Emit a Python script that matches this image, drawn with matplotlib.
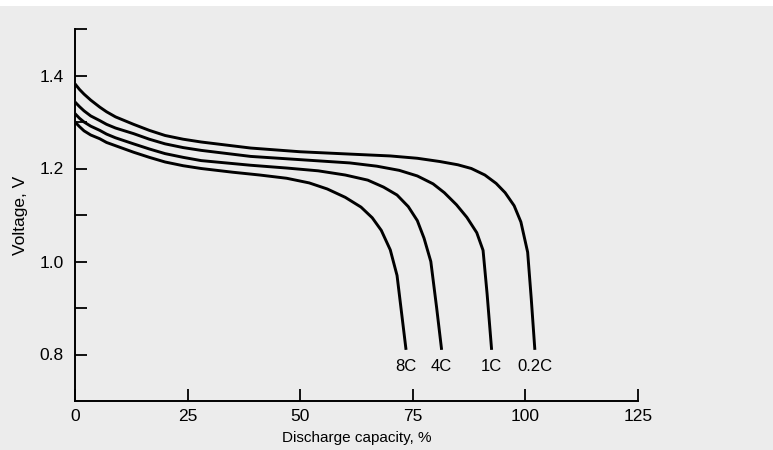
import matplotlib.pyplot as plt

# ─── Data ────────────────────────────────────────────────────────────────────

rates = ['0.2C', '1C', '4C', '8C']

cap_02c = [0, 1, 2, 3.5, 5.5, 7, 9, 13, 16.5, 20, 24, 28, 39, 50, 61, 70, 76,
           81, 85, 88, 91, 93.5, 95.5, 97.5, 99, 100.5, 101.3, 102.1]
volt_02c = [1.382, 1.370, 1.360, 1.347, 1.332, 1.322, 1.311, 1.295, 1.282,
            1.271, 1.263, 1.257, 1.244, 1.236, 1.231, 1.227, 1.222, 1.215,
            1.208, 1.200, 1.186, 1.168, 1.148, 1.120, 1.085, 1.020, 0.920,
            0.810]

cap_1c = [0, 1, 2, 3.5, 5.5, 7, 9, 13, 16.5, 20, 24, 28, 39, 50, 61, 67, 72,
          76, 79.5, 82, 84.7, 87, 89.2, 90.6, 91.5, 92.5]
volt_1c = [1.343, 1.333, 1.324, 1.313, 1.303, 1.295, 1.287, 1.275, 1.263,
           1.253, 1.245, 1.239, 1.226, 1.219, 1.212, 1.205, 1.196, 1.184,
           1.167, 1.148, 1.122, 1.095, 1.062, 1.024, 0.930, 0.810]

cap_4c = [0, 1, 2, 3.5, 5.5, 7, 9, 13, 16.5, 20, 24, 28, 39, 47, 54, 60, 65,
          68.5, 71.5, 74, 76, 77.5, 79, 80.3, 81.4]
volt_4c = [1.318, 1.308, 1.300, 1.291, 1.282, 1.274, 1.266, 1.253, 1.242,
           1.232, 1.224, 1.217, 1.207, 1.201, 1.195, 1.186, 1.175, 1.160,
           1.143, 1.118, 1.088, 1.050, 1.000, 0.900, 0.810]

cap_8c = [0, 1, 2, 3.5, 5.5, 7, 9, 13, 16.5, 20, 24, 28, 35, 41, 47, 52, 56,
          60, 63.5, 66, 68, 70, 71.5, 72.5, 73.5]
volt_8c = [1.300, 1.290, 1.281, 1.272, 1.264, 1.256, 1.249, 1.235, 1.224,
           1.214, 1.206, 1.200, 1.192, 1.186, 1.179, 1.169, 1.156, 1.138,
           1.117, 1.094, 1.067, 1.025, 0.970, 0.890, 0.810]

curves = {'0.2C': (cap_02c, volt_02c), '1C': (cap_1c, volt_1c),
          '4C': (cap_4c, volt_4c), '8C': (cap_8c, volt_8c)}

x_ticks = [0, 25, 50, 75, 100, 125]
y_ticks = [0.8, 1.0, 1.2, 1.4]
y_minor = [0.9, 1.1, 1.3, 1.5]

# ─── Figure ──────────────────────────────────────────────────────────────────

plt.rcParams['font.family'] = ['Liberation Sans', 'DejaVu Sans']

W, H = 773, 450
fig = plt.figure(figsize=(W / 100, H / 100), dpi=100, facecolor='#ececec')
# thin white strip at the top edge of the scan
fig.patches.append(plt.Rectangle((0, 1 - 6 / H), 1, 6 / H, transform=fig.transFigure,
                                 facecolor='white', edgecolor='none', zorder=-5))

ax = fig.add_axes([75 / W, 1 - 401 / H, (638 - 75) / W, (401 - 29) / H])
ax.patch.set_visible(False)

for rate in rates:
    cap, volt = curves[rate]
    ax.plot(cap, volt, color='black', linewidth=2.1, solid_joinstyle='round',
            solid_capstyle='butt', zorder=3)
    ax.text(cap[-1], 0.775, rate, ha='center', va='center', fontsize=12, color='black')

ax.set_xlim(0, 125)
ax.set_ylim(0.7, 1.5)
ax.set_xticks(x_ticks)
ax.set_yticks(y_ticks)
ax.set_yticklabels([f'{v:.1f}' for v in y_ticks])
ax.set_yticks(y_minor, minor=True)

for side in ['top', 'right']:
    ax.spines[side].set_visible(False)
for side in ['left', 'bottom']:
    ax.spines[side].set_linewidth(1.4)

ax.tick_params(which='both', direction='in', length=8.5, width=1.3, labelsize=12.5)
ax.tick_params(axis='y', pad=8)
ax.tick_params(axis='x', pad=6)

ax.set_xlabel('Discharge capacity, %', fontsize=11)
ax.set_ylabel('Voltage, V', fontsize=12.5)
ax.xaxis.set_label_coords(0.5, -0.081)
ax.yaxis.set_label_coords(-0.083, 0.5)

fig.savefig('out.png', dpi=100, facecolor=fig.get_facecolor())
